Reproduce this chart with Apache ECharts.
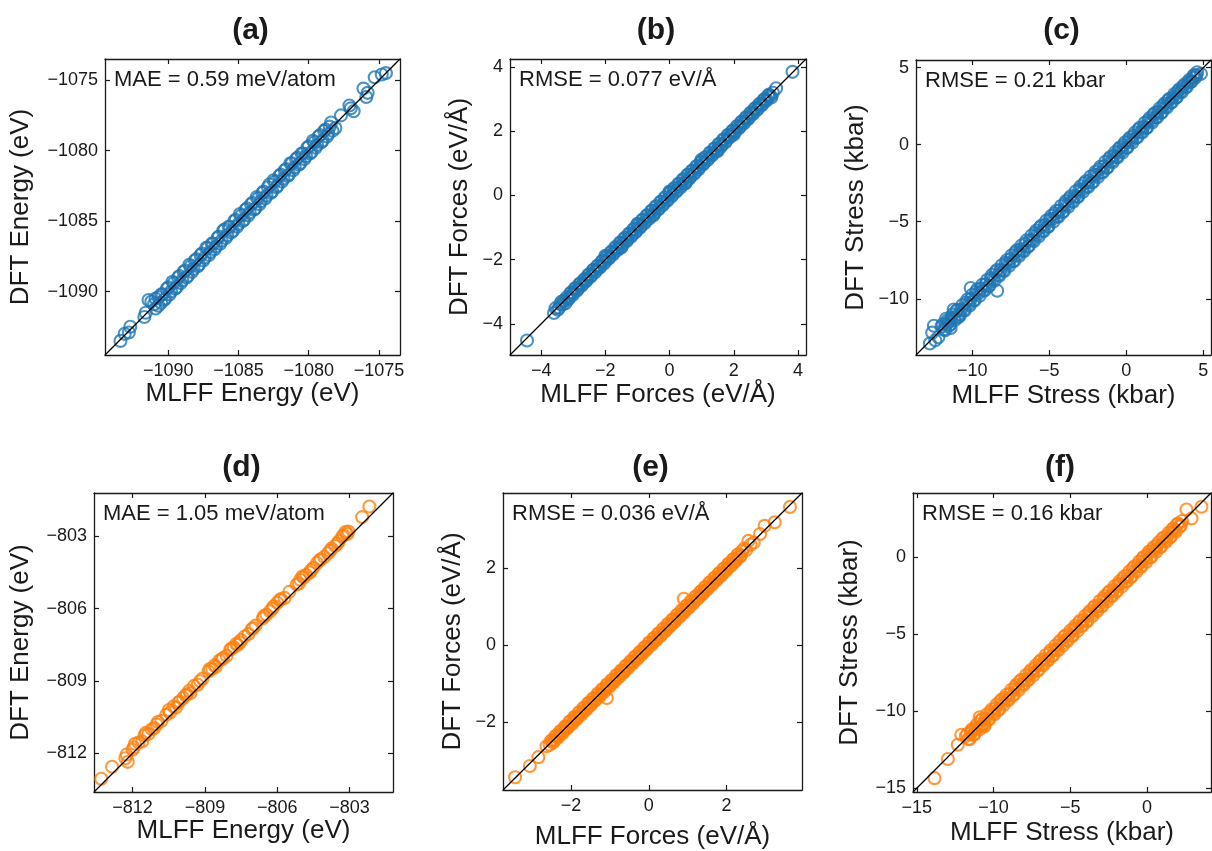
<!DOCTYPE html>
<html>
<head>
<meta charset="utf-8">
<script src="https://cdn.jsdelivr.net/npm/echarts@6/dist/echarts.min.js"></script>
<style>
  html, body { margin: 0; background: #fff; }
  #main { width: 1212px; height: 851px; }
</style>
</head>
<body>
<div id="main"></div>
<script>
// ---- data ----
const titles = ['(a)', '(b)', '(c)', '(d)', '(e)', '(f)'];
const xNames = ['MLFF Energy (eV)', 'MLFF Forces (eV/Å)', 'MLFF Stress (kbar)',
                'MLFF Energy (eV)', 'MLFF Forces (eV/Å)', 'MLFF Stress (kbar)'];
const yNames = ['DFT Energy (eV)', 'DFT Forces (eV/Å)', 'DFT Stress (kbar)',
                'DFT Energy (eV)', 'DFT Forces (eV/Å)', 'DFT Stress (kbar)'];
const notes = ['MAE = 0.59 meV/atom', 'RMSE = 0.077 eV/Å', 'RMSE = 0.21 kbar',
               'MAE = 1.05 meV/atom', 'RMSE = 0.036 eV/Å', 'RMSE = 0.16 kbar'];

// axis limits (same on x and y, the y = x line runs corner to corner)
const limits = [[-1094.5, -1073.5], [-4.97, 4.25], [-13.65, 5.5],
                [-813.6, -801.2], [-3.75, 3.94], [-15.25, 4.17]];

const ticksA = [-1090, -1085, -1080, -1075];
const ticksB = [-4, -2, 0, 2, 4];
const ticksC = [-10, -5, 0, 5];
const ticksD = [-812, -809, -806, -803];
const ticksE = [-2, 0, 2];
const ticksF = [-15, -10, -5, 0];

// [MLFF, DFT]
const pointsA = [
  [-1093.4,-1093.5],[-1093.1,-1093.0],[-1092.8,-1092.9],[-1092.7,-1092.5],
  [-1091.7,-1091.8],[-1091.6,-1091.5],[-1091.4,-1090.6],[-1091.2,-1090.7],[-1091.0,-1090.9],[-1090.9,-1091.2],
  [-1090.7,-1090.4],[-1090.5,-1090.8],[-1090.4,-1090.2],[-1090.2,-1090.5],[-1090.0,-1089.7],[-1089.8,-1090.0],
  [-1089.6,-1089.4],[-1089.4,-1089.7],[-1089.2,-1088.9],[-1089.0,-1089.2],[-1088.8,-1088.5],[-1088.6,-1088.9],
  [-1088.4,-1088.2],[-1088.2,-1088.4],[-1088.0,-1087.7],[-1087.8,-1088.1],[-1087.6,-1087.3],[-1087.4,-1087.6],
  [-1087.2,-1086.9],[-1087.0,-1087.2],[-1086.8,-1086.6],[-1086.6,-1086.8],[-1086.4,-1086.1],[-1086.2,-1086.4],
  [-1086.0,-1085.6],[-1085.8,-1086.0],[-1085.6,-1085.4],[-1085.4,-1085.7],[-1085.2,-1084.9],[-1085.0,-1085.2],
  [-1084.8,-1084.6],[-1084.6,-1084.9],[-1084.4,-1084.1],[-1084.2,-1084.4],[-1084.0,-1083.7],[-1083.8,-1084.1],
  [-1083.6,-1083.4],[-1083.4,-1083.6],[-1083.2,-1082.9],[-1083.0,-1083.2],[-1082.8,-1082.4],[-1082.6,-1082.9],
  [-1082.4,-1082.2],[-1082.2,-1082.5],[-1082.0,-1081.7],[-1081.8,-1082.0],[-1081.6,-1081.3],[-1081.4,-1081.7],
  [-1081.2,-1080.9],[-1081.0,-1081.2],[-1080.8,-1080.5],[-1080.6,-1080.9],[-1080.4,-1080.2],[-1080.2,-1080.4],
  [-1080.0,-1079.7],[-1079.8,-1080.1],[-1079.6,-1079.4],[-1079.4,-1079.6],[-1079.2,-1078.9],[-1079.0,-1079.3],
  [-1078.8,-1078.5],[-1078.6,-1078.8],[-1078.4,-1078.0],[-1078.1,-1078.4],[-1077.7,-1077.5],
  [-1077.1,-1076.8],[-1077.0,-1077.0],[-1076.8,-1077.2],[-1076.1,-1075.6],[-1075.9,-1076.2],[-1075.8,-1075.9],
  [-1075.3,-1074.8],[-1074.8,-1074.6],[-1074.5,-1074.5],
  [-1090.9,-1090.5],[-1090.7,-1091.0],[-1090.5,-1090.2],[-1090.3,-1090.6],[-1090.1,-1089.8],[-1089.9,-1090.2],
  [-1089.7,-1089.3],[-1089.5,-1089.8],[-1089.3,-1089.0],[-1089.1,-1089.4],[-1088.9,-1088.6],[-1088.7,-1089.0],
  [-1088.5,-1088.1],[-1088.3,-1088.6],[-1088.1,-1087.8],[-1087.9,-1088.2],[-1087.7,-1087.4],[-1087.5,-1087.8],
  [-1087.3,-1086.9],[-1087.1,-1087.4],[-1086.9,-1086.6],[-1086.7,-1087.0],[-1086.5,-1086.2],[-1086.3,-1086.6],
  [-1086.1,-1085.7],[-1085.9,-1086.2],[-1085.7,-1085.4],[-1085.5,-1085.8],[-1085.3,-1085.0],[-1085.1,-1085.4],
  [-1084.9,-1084.5],[-1084.7,-1085.0],[-1084.5,-1084.2],[-1084.3,-1084.6],[-1084.1,-1083.8],[-1083.9,-1084.2],
  [-1083.7,-1083.3],[-1083.5,-1083.8],[-1083.3,-1083.0],[-1083.1,-1083.4],[-1082.9,-1082.6],[-1082.7,-1083.0],
  [-1082.5,-1082.1],[-1082.3,-1082.6],[-1082.1,-1081.8],[-1081.9,-1082.2],[-1081.7,-1081.4],[-1081.5,-1081.8],
  [-1081.3,-1080.9],[-1081.1,-1081.4],[-1080.9,-1080.6],[-1080.7,-1081.0],[-1080.5,-1080.2],[-1080.3,-1080.6],
  [-1080.1,-1079.8],[-1079.9,-1080.2],[-1079.7,-1079.3],[-1079.5,-1079.8],[-1079.3,-1079.0],[-1079.1,-1079.4],
  [-1078.9,-1078.6],[-1078.7,-1079.0],[-1078.5,-1078.3],[-1078.3,-1078.6]
];

const pointsB = [
  [-4.44,-4.52],[-3.60,-3.66],[-3.55,-3.51],[-3.48,-3.56],[-3.40,-3.38],[-3.33,-3.40],[-3.24,-3.36],
  [-3.20,-3.17],[-3.13,-3.20],[-3.06,-3.02],[-2.99,-3.04],[-2.92,-2.88],[-2.85,-2.91],[-2.78,-2.74],
  [-2.71,-2.77],[-2.64,-2.60],[-2.57,-2.62],[-2.50,-2.46],[-2.43,-2.49],[-2.36,-2.31],[-2.29,-2.34],
  [-2.22,-2.18],[-2.15,-2.21],[-2.08,-2.03],[-2.01,-2.06],[-1.94,-1.90],[-1.87,-1.93],[-1.80,-1.75],
  [-1.73,-1.78],[-1.66,-1.62],[-1.59,-1.65],[-1.52,-1.47],[-1.45,-1.50],[-1.38,-1.33],[-1.31,-1.37],
  [-1.24,-1.19],[-1.17,-1.23],[-1.10,-1.05],[-1.03,-1.09],[-0.96,-0.91],[-0.89,-0.95],[-0.82,-0.76],
  [-0.75,-0.81],[-0.68,-0.62],[-0.61,-0.67],[-0.54,-0.48],[-0.47,-0.54],[-0.40,-0.34],[-0.33,-0.40],
  [-0.26,-0.20],[-0.19,-0.26],[-0.12,-0.06],[-0.05,-0.12],[0.02,0.08],[0.09,0.02],[0.16,0.22],
  [0.23,0.16],[0.30,0.36],[0.37,0.30],[0.44,0.50],[0.51,0.44],[0.58,0.64],[0.65,0.58],[0.72,0.77],
  [0.79,0.72],[0.86,0.91],[0.93,0.87],[1.00,1.05],[1.07,1.01],[1.14,1.19],[1.21,1.15],[1.28,1.33],
  [1.35,1.29],[1.42,1.47],[1.49,1.43],[1.56,1.61],[1.63,1.57],[1.70,1.75],[1.77,1.71],[1.84,1.88],
  [1.91,1.86],[1.98,2.02],[2.05,2.00],[2.12,2.16],[2.19,2.14],[2.26,2.30],[2.33,2.28],[2.40,2.44],
  [2.47,2.42],[2.54,2.58],[2.61,2.56],[2.68,2.72],[2.75,2.70],[2.82,2.86],[2.89,2.84],[2.96,3.00],
  [3.03,2.98],[3.10,3.14],[3.17,3.05],[3.32,3.34],[3.83,3.85],
  [-2.00,-1.88],[-1.50,-1.62],[-1.00,-0.88],[-0.50,-0.62],[0.00,0.12],[0.50,0.38],[1.00,1.12],
  [1.50,1.38],[2.00,1.90],
  [-3.44,-3.50],[-3.37,-3.31],[-3.29,-3.27],[-3.16,-3.24],[-3.09,-3.05],[-3.02,-3.10],[-2.95,-2.90],
  [-2.88,-2.96],[-2.81,-2.76],[-2.74,-2.81],[-2.67,-2.63],[-2.60,-2.67],[-2.53,-2.47],[-2.46,-2.53],
  [-2.39,-2.33],[-2.32,-2.39],[-2.25,-2.19],[-2.18,-2.25],[-2.11,-2.05],[-2.04,-2.12],[-1.97,-1.90],
  [-1.90,-1.97],[-1.83,-1.76],[-1.76,-1.84],[-1.69,-1.61],[-1.62,-1.70],[-1.55,-1.47],[-1.48,-1.57],
  [-1.41,-1.33],[-1.34,-1.43],[-1.27,-1.19],[-1.20,-1.29],[-1.13,-1.05],[-1.06,-1.15],[-0.99,-0.91],
  [-0.92,-1.01],[-0.85,-0.76],[-0.78,-0.87],[-0.71,-0.62],[-0.64,-0.73],[-0.57,-0.48],[-0.50,-0.59],
  [-0.43,-0.34],[-0.36,-0.45],[-0.29,-0.20],[-0.22,-0.31],[-0.15,-0.06],[-0.08,-0.17],[-0.01,0.08],
  [0.06,-0.03],[0.13,0.22],[0.20,0.11],[0.27,0.36],[0.34,0.25],[0.41,0.50],[0.48,0.39],[0.55,0.64],
  [0.62,0.53],[0.69,0.77],[0.76,0.67],[0.83,0.91],[0.90,0.81],[0.97,1.05],[1.04,0.96],[1.11,1.19],
  [1.18,1.10],[1.25,1.33],[1.32,1.24],[1.39,1.46],[1.46,1.38],[1.53,1.60],[1.60,1.52],[1.67,1.74],
  [1.74,1.66],[1.81,1.88],[1.88,1.81],[1.95,2.01],[2.02,1.95],[2.09,2.15],[2.16,2.09],[2.23,2.29],
  [2.30,2.23],[2.37,2.43],[2.44,2.37],[2.51,2.57],[2.58,2.52],[2.65,2.71],[2.72,2.66],[2.79,2.84],
  [2.86,2.80],[2.93,2.98],[3.00,2.94],[3.07,3.11],[3.14,3.10],[3.22,3.20]
];

const pointsC = [
  [-12.75,-12.90],[-12.60,-12.20],[-12.49,-11.75],[-12.40,-12.70],[-12.20,-12.50],[-11.70,-11.30],
  [-11.40,-11.90],[-11.20,-10.70],[-11.50,-11.50],[-10.90,-11.20],[-10.10,-9.30],[-8.38,-9.48],
  [-12.00,-11.82],[-11.84,-11.99],[-11.68,-11.63],[-11.52,-11.74],[-11.36,-11.24],[-11.20,-11.26],
  [-11.04,-10.80],[-10.88,-11.00],[-10.72,-10.70],[-10.56,-10.75],[-10.40,-10.24],[-10.24,-10.34],
  [-10.08,-10.00],[-9.92,-10.13],[-9.76,-9.56],[-9.60,-9.64],[-9.44,-9.33],[-9.28,-9.45],
  [-9.12,-9.06],[-8.96,-9.20],[-8.80,-8.65],[-8.64,-8.72],[-8.48,-8.26],[-8.32,-8.45],
  [-8.16,-8.13],[-8.00,-8.18],[-7.84,-7.67],[-7.68,-7.73],[-7.52,-7.42],[-7.36,-7.56],
  [-7.20,-6.99],[-7.04,-7.13],[-6.88,-6.81],[-6.72,-6.88],[-6.56,-6.42],[-6.40,-6.63],
  [-6.24,-6.20],[-6.08,-6.19],[-5.92,-5.73],[-5.76,-5.83],[-5.60,-5.37],[-5.44,-5.58],
  [-5.28,-5.19],[-5.12,-5.32],[-4.96,-4.83],[-4.80,-4.83],[-4.64,-4.46],[-4.48,-4.65],
  [-4.32,-4.26],[-4.16,-4.38],[-4.00,-3.84],[-3.84,-3.92],[-3.68,-3.48],[-3.52,-3.64],
  [-3.36,-3.34],[-3.20,-3.39],[-3.04,-2.90],[-2.88,-2.94],[-2.72,-2.50],[-2.56,-2.71],
  [-2.40,-2.32],[-2.24,-2.45],[-2.08,-1.96],[-1.92,-1.96],[-1.76,-1.59],[-1.60,-1.78],
  [-1.44,-1.39],[-1.28,-1.51],[-1.12,-0.93],[-0.96,-1.06],[-0.80,-0.71],[-0.64,-0.80],
  [-0.48,-0.27],[-0.32,-0.39],[-0.16,-0.03],[0.00,-0.20],[0.16,0.32],[0.32,0.27],
  [0.48,0.58],[0.64,0.46],[0.80,1.00],[0.96,0.85],[1.12,1.16],[1.28,1.07],
  [1.44,1.59],[1.60,1.54],[1.76,1.94],[1.92,1.78],[2.08,2.15],[2.24,2.05],
  [2.40,2.53],[2.56,2.47],[2.72,2.89],[2.88,2.73],[3.04,3.09],[3.20,3.03],
  [3.36,3.48],[3.52,3.44],[3.68,3.78],[3.84,3.72],[4.00,4.06],[4.16,4.06],
  [4.32,4.40],[4.55,4.50],[4.60,4.70],[4.85,4.60],
  [-11.92,-11.65],[-11.76,-12.05],[-11.60,-11.40],[-11.44,-11.70],[-11.28,-11.02],[-11.12,-11.38],
  [-10.96,-10.72],[-10.80,-11.08],[-10.64,-10.40],[-10.48,-10.76],[-10.32,-10.05],[-10.16,-10.44],
  [-10.00,-9.74],[-9.84,-10.10],[-9.68,-9.40],[-9.52,-9.80],[-9.36,-9.10],[-9.20,-9.47],
  [-9.04,-8.78],[-8.88,-9.14],[-8.72,-8.45],[-8.56,-8.83],[-8.40,-8.13],[-8.24,-8.51],
  [-8.08,-7.82],[-7.92,-8.19],[-7.76,-7.50],[-7.60,-7.86],[-7.44,-7.17],[-7.28,-7.55],
  [-7.12,-6.86],[-6.96,-7.22],[-6.80,-6.54],[-6.64,-6.91],[-6.48,-6.21],[-6.32,-6.58],
  [-6.16,-5.90],[-6.00,-6.27],[-5.84,-5.57],[-5.68,-5.94],[-5.52,-5.26],[-5.36,-5.62],
  [-5.20,-4.93],[-5.04,-5.31],[-4.88,-4.62],[-4.72,-4.98],[-4.56,-4.30],[-4.40,-4.67],
  [-4.24,-3.98],[-4.08,-4.34],[-3.92,-3.66],[-3.76,-4.02],[-3.60,-3.34],[-3.44,-3.70],
  [-3.28,-3.02],[-3.12,-3.38],[-2.96,-2.70],[-2.80,-3.06],[-2.64,-2.38],[-2.48,-2.74],
  [-2.32,-2.06],[-2.16,-2.42],[-2.00,-1.75],[-1.84,-2.10],[-1.68,-1.43],[-1.52,-1.78],
  [-1.36,-1.11],[-1.20,-1.46],[-1.04,-0.80],[-0.88,-1.14],[-0.72,-0.48],[-0.56,-0.82],
  [-0.40,-0.16],[-0.24,-0.50],[-0.08,0.16],[0.08,-0.18],[0.24,0.47],[0.40,0.15],
  [0.56,0.79],[0.72,0.48],[0.88,1.10],[1.04,0.80],[1.20,1.42],[1.36,1.12],
  [1.52,1.73],[1.68,1.44],[1.84,2.05],[2.00,1.77],[2.16,2.36],[2.32,2.10],
  [2.48,2.67],[2.64,2.42],[2.80,2.98],[2.96,2.75],[3.12,3.29],[3.28,3.08],
  [3.44,3.60],[3.60,3.41],[3.76,3.90],[3.92,3.75],[4.08,4.20],[4.24,4.10],
  [4.40,4.52],[4.48,4.35]
];

const pointsD = [
  [-813.30,-813.05],[-812.85,-812.55],[-812.30,-812.20],[-812.20,-812.35],[-812.00,-811.85],
  [-811.90,-811.60],[-811.75,-811.55],[-811.60,-811.50],[-811.50,-811.25],[-811.35,-811.20],
  [-811.20,-811.00],[-811.10,-810.95],[-810.95,-810.70],[-810.80,-810.65],[-810.60,-810.40],
  [-810.45,-810.30],[-810.30,-810.05],[-810.20,-810.10],[-810.05,-809.85],[-809.90,-809.70],
  [-809.75,-809.55],[-809.60,-809.50],[-809.45,-809.20],[-809.30,-809.15],[-809.10,-808.90],
  [-808.85,-808.60],[-808.70,-808.50],[-808.55,-808.40],[-808.40,-808.15],[-808.25,-808.05],
  [-808.10,-807.95],[-807.95,-807.70],[-807.80,-807.60],[-807.65,-807.50],[-807.50,-807.30],
  [-807.35,-807.15],[-807.20,-807.05],[-807.05,-806.85],[-806.90,-806.70],[-806.60,-806.40],
  [-806.45,-806.25],[-806.30,-806.10],[-806.15,-805.90],[-806.00,-805.75],[-805.85,-805.60],
  [-805.70,-805.55],[-805.50,-805.30],[-805.20,-805.00],[-805.05,-804.80],[-804.95,-804.65],
  [-804.80,-804.60],[-804.65,-804.50],[-804.50,-804.30],[-804.35,-804.10],[-804.20,-803.95],
  [-804.05,-803.85],[-803.90,-803.70],[-803.75,-803.50],[-803.60,-803.40],[-803.45,-803.20],
  [-803.30,-803.00],[-803.17,-802.82],[-803.10,-802.90],[-802.48,-802.20],[-802.18,-801.76],
  [-812.25,-812.05],[-811.95,-811.75],[-811.45,-811.15],[-811.00,-810.80],[-810.50,-810.20],
  [-810.10,-809.90],[-809.80,-809.60],[-809.65,-809.40],[-809.20,-809.00],[-808.80,-808.50],
  [-808.60,-808.35],[-808.30,-808.10],[-807.90,-807.65],[-807.70,-807.45],[-807.55,-807.40],
  [-807.00,-806.80],[-806.55,-806.30],[-806.20,-806.00],[-805.90,-805.65],[-805.10,-804.95],
  [-804.90,-804.70],[-804.60,-804.40],[-804.25,-804.00],[-803.80,-803.60],[-803.50,-803.30],
  [-803.25,-802.95],[-803.05,-802.80]
];

const pointsE = [
  [-3.44,-3.42],[-3.06,-3.13],[-2.84,-2.90],[-2.63,-2.62],[-1.08,-1.37],[0.90,1.20],
  [2.86,2.88],[2.98,3.09],[3.24,3.18],[3.63,3.58],
  [-2.55,-2.58],[-2.49,-2.46],[-2.43,-2.47],[-2.37,-2.34],[-2.31,-2.35],[-2.25,-2.22],
  [-2.19,-2.23],[-2.13,-2.10],[-2.07,-2.11],[-2.01,-1.97],[-1.95,-1.99],[-1.89,-1.86],
  [-1.83,-1.87],[-1.77,-1.73],[-1.71,-1.75],[-1.65,-1.62],[-1.59,-1.63],[-1.53,-1.49],
  [-1.47,-1.51],[-1.41,-1.38],[-1.35,-1.39],[-1.29,-1.25],[-1.23,-1.27],[-1.17,-1.14],
  [-1.11,-1.15],[-1.05,-1.01],[-0.99,-1.03],[-0.93,-0.90],[-0.87,-0.91],[-0.81,-0.77],
  [-0.75,-0.79],[-0.69,-0.66],[-0.63,-0.67],[-0.57,-0.53],[-0.51,-0.55],[-0.45,-0.42],
  [-0.39,-0.43],[-0.33,-0.29],[-0.27,-0.31],[-0.21,-0.18],[-0.15,-0.19],[-0.09,-0.05],
  [-0.03,-0.07],[0.03,0.07],[0.09,0.05],[0.15,0.19],[0.21,0.17],[0.27,0.31],
  [0.33,0.29],[0.39,0.43],[0.45,0.41],[0.51,0.55],[0.57,0.53],[0.63,0.67],
  [0.69,0.65],[0.75,0.79],[0.81,0.77],[0.87,0.91],[0.93,0.89],[0.99,1.03],
  [1.05,1.01],[1.11,1.15],[1.17,1.13],[1.23,1.27],[1.29,1.25],[1.35,1.39],
  [1.41,1.37],[1.47,1.51],[1.53,1.49],[1.59,1.63],[1.65,1.61],[1.71,1.75],
  [1.77,1.73],[1.83,1.87],[1.89,1.85],[1.95,1.99],[2.01,1.97],[2.07,2.11],
  [2.13,2.09],[2.19,2.23],[2.25,2.21],[2.31,2.35],[2.37,2.33],[2.45,2.50],
  [2.56,2.70],[2.70,2.66],
  [-2.52,-2.48],[-2.46,-2.52],[-2.40,-2.35],[-2.34,-2.40],[-2.28,-2.23],[-2.22,-2.28],
  [-2.16,-2.11],[-2.10,-2.16],[-2.04,-1.98],[-1.98,-2.04],[-1.92,-1.86],[-1.86,-1.92],
  [-1.80,-1.74],[-1.74,-1.80],[-1.68,-1.62],[-1.62,-1.68],[-1.56,-1.50],[-1.50,-1.56],
  [-1.44,-1.38],[-1.38,-1.44],[-1.32,-1.26],[-1.26,-1.32],[-1.20,-1.14],[-1.14,-1.20],
  [-1.08,-1.02],[-1.02,-1.08],[-0.96,-0.90],[-0.90,-0.96],[-0.84,-0.78],[-0.78,-0.84],
  [-0.72,-0.66],[-0.66,-0.72],[-0.60,-0.54],[-0.54,-0.60],[-0.48,-0.42],[-0.42,-0.48],
  [-0.36,-0.30],[-0.30,-0.36],[-0.24,-0.18],[-0.18,-0.24],[-0.12,-0.06],[-0.06,-0.12],
  [0.00,0.06],[0.06,0.00],[0.12,0.18],[0.18,0.12],[0.24,0.30],[0.30,0.24],
  [0.36,0.42],[0.42,0.36],[0.48,0.54],[0.54,0.48],[0.60,0.66],[0.66,0.60],
  [0.72,0.78],[0.78,0.72],[0.84,0.90],[0.90,0.84],[0.96,1.02],[1.02,0.96],
  [1.08,1.14],[1.14,1.08],[1.20,1.26],[1.26,1.20],[1.32,1.38],[1.38,1.32],
  [1.44,1.50],[1.50,1.44],[1.56,1.62],[1.62,1.56],[1.68,1.74],[1.74,1.68],
  [1.80,1.86],[1.86,1.80],[1.92,1.98],[1.98,1.92],[2.04,2.10],[2.10,2.04],
  [2.16,2.22],[2.22,2.16],[2.28,2.34],[2.34,2.28],[2.40,2.44],[2.50,2.46],[2.62,2.60]
];

const pointsF = [
  [-13.85,-14.35],[-12.98,-13.11],[-12.33,-12.18],[-12.10,-11.53],[-11.45,-11.30],[-10.80,-10.99],
  [-10.60,-11.00],[-10.90,-10.40],[2.57,3.10],[3.55,3.28],[2.90,2.52],
  [-11.80,-11.62],[-11.64,-11.80],[-11.48,-11.42],[-11.32,-11.54],[-11.16,-11.03],[-11.00,-11.07],
  [-10.84,-10.60],[-10.68,-10.81],[-10.52,-10.49],[-10.36,-10.55],[-10.20,-10.04],[-10.04,-10.14],
  [-9.88,-9.80],[-9.72,-9.93],[-9.56,-9.36],[-9.40,-9.45],[-9.24,-9.13],[-9.08,-9.25],
  [-8.92,-8.86],[-8.76,-8.99],[-8.60,-8.45],[-8.44,-8.52],[-8.28,-8.06],[-8.12,-8.25],
  [-7.96,-7.93],[-7.80,-7.98],[-7.64,-7.47],[-7.48,-7.53],[-7.32,-7.22],[-7.16,-7.36],
  [-7.00,-6.79],[-6.84,-6.93],[-6.68,-6.61],[-6.52,-6.68],[-6.36,-6.22],[-6.20,-6.43],
  [-6.04,-6.00],[-5.88,-5.99],[-5.72,-5.53],[-5.56,-5.63],[-5.40,-5.17],[-5.24,-5.38],
  [-5.08,-4.99],[-4.92,-5.12],[-4.76,-4.63],[-4.60,-4.63],[-4.44,-4.26],[-4.28,-4.45],
  [-4.12,-4.06],[-3.96,-4.18],[-3.80,-3.64],[-3.64,-3.72],[-3.48,-3.28],[-3.32,-3.44],
  [-3.16,-3.14],[-3.00,-3.19],[-2.84,-2.70],[-2.68,-2.74],[-2.52,-2.30],[-2.36,-2.51],
  [-2.20,-2.12],[-2.04,-2.25],[-1.88,-1.76],[-1.72,-1.76],[-1.56,-1.39],[-1.40,-1.58],
  [-1.24,-1.19],[-1.08,-1.31],[-0.92,-0.73],[-0.76,-0.86],[-0.60,-0.51],[-0.44,-0.60],
  [-0.28,-0.07],[-0.12,-0.19],[0.04,0.17],[0.20,0.00],[0.36,0.52],[0.52,0.47],
  [0.68,0.78],[0.84,0.66],[1.00,1.20],[1.16,1.05],[1.32,1.36],[1.48,1.27],
  [1.64,1.79],[1.80,1.74],[1.96,2.14],[2.12,1.98],[2.28,2.35],
  [-11.72,-11.48],[-11.56,-11.82],[-11.40,-11.18],[-11.24,-11.50],[-11.08,-10.85],[-10.92,-11.18],
  [-10.76,-10.53],[-10.60,-10.86],[-10.44,-10.21],[-10.28,-10.54],[-10.12,-9.89],[-9.96,-10.22],
  [-9.80,-9.57],[-9.64,-9.90],[-9.48,-9.25],[-9.32,-9.58],[-9.16,-8.93],[-9.00,-9.26],
  [-8.84,-8.61],[-8.68,-8.94],[-8.52,-8.29],[-8.36,-8.62],[-8.20,-7.97],[-8.04,-8.30],
  [-7.88,-7.65],[-7.72,-7.98],[-7.56,-7.33],[-7.40,-7.66],[-7.24,-7.01],[-7.08,-7.34],
  [-6.92,-6.69],[-6.76,-7.02],[-6.60,-6.37],[-6.44,-6.70],[-6.28,-6.05],[-6.12,-6.38],
  [-5.96,-5.73],[-5.80,-6.06],[-5.64,-5.41],[-5.48,-5.74],[-5.32,-5.09],[-5.16,-5.42],
  [-5.00,-4.77],[-4.84,-5.10],[-4.68,-4.45],[-4.52,-4.78],[-4.36,-4.13],[-4.20,-4.46],
  [-4.04,-3.81],[-3.88,-4.14],[-3.72,-3.49],[-3.56,-3.82],[-3.40,-3.17],[-3.24,-3.50],
  [-3.08,-2.85],[-2.92,-3.18],[-2.76,-2.53],[-2.60,-2.86],[-2.44,-2.21],[-2.28,-2.54],
  [-2.12,-1.89],[-1.96,-2.22],[-1.80,-1.57],[-1.64,-1.90],[-1.48,-1.25],[-1.32,-1.58],
  [-1.16,-0.93],[-1.00,-1.26],[-0.84,-0.61],[-0.68,-0.94],[-0.52,-0.29],[-0.36,-0.62],
  [-0.20,0.03],[-0.04,-0.30],[0.12,0.35],[0.28,0.02],[0.44,0.66],[0.60,0.35],
  [0.76,0.97],[0.92,0.68],[1.08,1.28],[1.24,1.00],[1.40,1.58],[1.56,1.34],
  [1.72,1.88],[1.88,1.66],[2.04,2.18],[2.20,2.04]
];

// ---- layout ----
var myChart = echarts.init(document.getElementById('main'));
const FONT = "'Liberation Sans', Arial, Helvetica, sans-serif";
const INK = '#1a1a1a';
const BLUE = '#1f77b4';
const ORANGE = '#ff7f0e';

const boxes = [
  { left: 105, top: 59, width: 295, height: 296 },
  { left: 510, top: 59, width: 296, height: 296 },
  { left: 916, top: 60, width: 295, height: 295 },
  { left: 94, top: 493, width: 299, height: 299 },
  { left: 503, top: 493, width: 299, height: 299 },
  { left: 913, top: 493, width: 298, height: 299 }
];
const xGaps = [20, 27, 28, 25, 34, 28];
const yGaps = [71, 37, 47, 60, 37, 50];
const titleY = [31, 31, 31, 468, 468, 468];
const panelTicks = [ticksA, ticksB, ticksC, ticksD, ticksE, ticksF];
const panelPoints = [pointsA, pointsB, pointsC, pointsD, pointsE, pointsF];
const panelColors = [BLUE, BLUE, BLUE, ORANGE, ORANGE, ORANGE];

function minus(v) { return String(v).replace('-', '\u2212'); }

function makeAxis(i, pos, withLabels) {
  var lim = limits[i];
  return {
    type: 'value', gridIndex: i, position: pos, min: lim[0], max: lim[1],
    axisLine: { show: true, onZero: false, lineStyle: { color: INK, width: 1.3 } },
    axisTick: { show: true, inside: true, length: 5, customValues: panelTicks[i],
                lineStyle: { color: INK, width: 1.2 } },
    axisLabel: { show: withLabels, customValues: panelTicks[i], formatter: minus,
                 fontSize: 18, color: INK, fontFamily: FONT, margin: 7 },
    splitLine: { show: false }
  };
}

var grid = [], xAxis = [], yAxis = [], series = [], graphic = [];
boxes.forEach(function (b, i) {
  grid.push({ left: b.left, top: b.top, width: b.width, height: b.height });

  var xb = makeAxis(i, 'bottom', true);
  xb.name = xNames[i];
  xb.nameLocation = 'middle';
  xb.nameGap = xGaps[i];
  xb.nameTextStyle = { fontSize: 26, color: INK, fontFamily: FONT };
  xAxis.push(xb, makeAxis(i, 'top', false));

  var yl = makeAxis(i, 'left', true);
  yl.name = yNames[i];
  yl.nameLocation = 'middle';
  yl.nameGap = yGaps[i];
  yl.nameTextStyle = { fontSize: 26, color: INK, fontFamily: FONT };
  yAxis.push(yl, makeAxis(i, 'right', false));

  series.push({
    type: 'scatter', xAxisIndex: 2 * i, yAxisIndex: 2 * i,
    data: panelPoints[i], symbol: 'circle', symbolSize: 12, silent: true, z: 2,
    itemStyle: { color: 'rgba(0,0,0,0)', borderColor: panelColors[i], borderWidth: 2.1 }
  });
  var lim = limits[i];
  series.push({
    type: 'line', xAxisIndex: 2 * i, yAxisIndex: 2 * i,
    data: [[lim[0], lim[0]], [lim[1], lim[1]]], symbol: 'none', silent: true, z: 5,
    lineStyle: { color: '#000', width: 1.3 }
  });

  graphic.push({
    type: 'text', x: b.left + b.width / 2 - 2, y: titleY[i], z: 10,
    style: { text: titles[i], fill: INK, font: 'bold 30px ' + FONT,
             align: 'center', verticalAlign: 'middle' }
  });
  graphic.push({
    type: 'text', x: b.left + 9, y: b.top + 21, z: 10,
    style: { text: notes[i], fill: INK, font: '22px ' + FONT,
             align: 'left', verticalAlign: 'middle' }
  });
});

myChart.setOption({
  animation: false,
  backgroundColor: '#fff',
  grid: grid,
  xAxis: xAxis,
  yAxis: yAxis,
  series: series,
  graphic: graphic
});
</script>
</body>
</html>
